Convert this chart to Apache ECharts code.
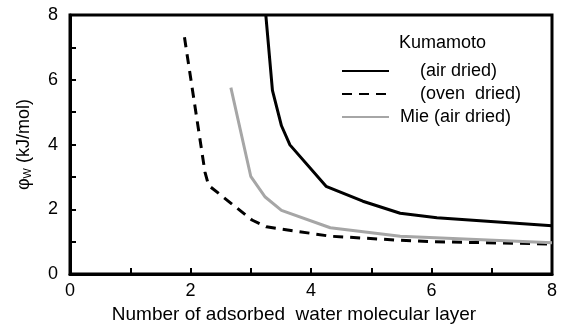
<!DOCTYPE html>
<html>
<head>
<meta charset="utf-8">
<script src="https://cdn.jsdelivr.net/npm/echarts@6/dist/echarts.min.js"></script>
<style>
  html, body { margin: 0; padding: 0; background: #fff; }
  #chart { width: 561px; height: 329px; }
</style>
</head>
<body>
<div id="chart"></div>
<script>
var kumaAirX = [3.25, 3.36, 3.51, 3.65, 4.25, 4.86, 5.48, 6.09, 8.0];
var kumaAirY = [8.0, 5.67, 4.58, 3.99, 2.71, 2.25, 1.88, 1.74, 1.49];
var kumaOvenX = [1.90, 2.24, 2.30, 3.02, 3.26, 4.32, 5.42, 6.03, 8.0];
var kumaOvenY = [7.31, 3.15, 2.74, 1.67, 1.46, 1.17, 1.05, 1.00, 0.93];
var mieAirX = [2.67, 3.0, 3.24, 3.51, 4.32, 5.48, 8.0];
var mieAirY = [5.76, 3.02, 2.38, 1.97, 1.43, 1.17, 0.97];
var seriesNames = ['    (air dried)', '    (oven  dried)', 'Mie (air dried)'];

function pairs(xs, ys) {
  return xs.map(function(x, i) { return [x, ys[i]]; });
}

var font = 'Liberation Sans, Arial, sans-serif';
var chart = echarts.init(document.getElementById('chart'), null, { renderer: 'canvas' });
chart.setOption({
  animation: false,
  backgroundColor: '#fff',
  textStyle: { fontFamily: font },
  grid: {
    left: 70, right: 9, top: 15, bottom: 53,
    show: true, borderColor: '#000', borderWidth: 3
  },
  legend: {
    orient: 'vertical',
    left: 336, top: 57,
    itemWidth: 47, itemHeight: 14, itemGap: 5,
    itemStyle: { opacity: 0 },
    textStyle: { fontSize: 18, color: '#000', fontFamily: font, padding: [0, 0, 0, 6] },
    data: seriesNames
  },
  graphic: [{
    type: 'text', left: 399, top: 34,
    style: { text: 'Kumamoto', fontSize: 18, fill: '#000', fontFamily: font }
  }],
  xAxis: {
    type: 'value', min: 0, max: 8, interval: 1,
    name: 'Number of adsorbed  water molecular layer',
    nameLocation: 'middle', nameGap: 29,
    nameTextStyle: { fontSize: 19, color: '#000', padding: [0, 34, 0, 0] },
    axisLine: { lineStyle: { color: '#000', width: 3 } },
    axisTick: { inside: true, length: 6, lineStyle: { color: '#000', width: 2 } },
    axisLabel: {
      fontSize: 18, color: '#000', margin: 8,
      formatter: function(v) { return v % 2 === 0 ? String(v) : ''; }
    },
    splitLine: { show: false }
  },
  yAxis: {
    type: 'value', min: 0, max: 8, interval: 1,
    name: '{a|φ}{s|W}{a| (kJ/mol)}',
    nameLocation: 'middle', nameGap: 37,
    nameTextStyle: {
      color: '#000',
      rich: {
        a: { fontSize: 18, color: '#000', fontFamily: font },
        s: { fontSize: 11, color: '#000', fontFamily: font, verticalAlign: 'bottom', padding: [7, 0, 0, 0] }
      }
    },
    axisLine: { lineStyle: { color: '#000', width: 3 } },
    axisTick: { inside: true, length: 6, lineStyle: { color: '#000', width: 2 } },
    axisLabel: {
      fontSize: 18, color: '#000', margin: 12,
      formatter: function(v) { return v % 2 === 0 ? String(v) : ''; }
    },
    splitLine: { show: false }
  },
  series: [
    {
      name: seriesNames[0], type: 'line', symbol: 'none', clip: true,
      data: pairs(kumaAirX, kumaAirY),
      lineStyle: { color: '#000', width: 3 },
      itemStyle: { color: '#000' }
    },
    {
      name: seriesNames[1], type: 'line', symbol: 'none', clip: true,
      data: pairs(kumaOvenX, kumaOvenY),
      lineStyle: { color: '#000', width: 3, type: [10, 7] },
      itemStyle: { color: '#000' }
    },
    {
      name: seriesNames[2], type: 'line', symbol: 'none', clip: true,
      data: pairs(mieAirX, mieAirY),
      lineStyle: { color: '#a6a6a6', width: 3 },
      itemStyle: { color: '#a6a6a6' }
    }
  ]
});
</script>
</body>
</html>
